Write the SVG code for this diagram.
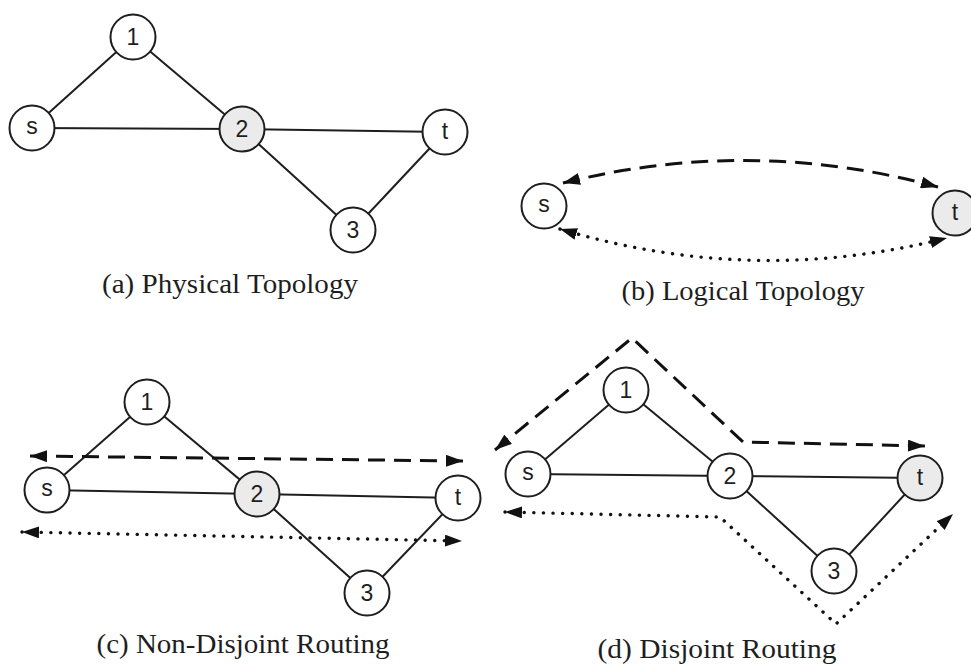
<svg xmlns="http://www.w3.org/2000/svg" width="971" height="669" viewBox="0 0 971 669">
<defs>
<marker id="arr" viewBox="0 0 17 12" refX="17" refY="6" markerWidth="17" markerHeight="12" markerUnits="userSpaceOnUse" orient="auto-start-reverse">
<path d="M0,0 L17,6 L0,12 Z" fill="#111"/>
</marker>
</defs>
<style>
.edge{stroke:#1e1e1e;stroke-width:2;fill:none}
.node{fill:#fff;stroke:#1e1e1e;stroke-width:2}
.gray{fill:#ebebeb}
.lbl{font-family:"Liberation Sans",Arial,sans-serif;font-size:23px;fill:#1e1e1e;text-anchor:middle}
.cap{font-family:"Liberation Serif","Times New Roman",serif;font-size:27px;fill:#1e1e1e;text-anchor:middle}
.dash{stroke:#111;stroke-width:3;fill:none;stroke-dasharray:17 9;marker-start:url(#arr);marker-end:url(#arr)}
.dot{stroke:#111;stroke-width:3.4;fill:none;stroke-dasharray:0.1 9.5;stroke-linecap:round;marker-start:url(#arr);marker-end:url(#arr)}
</style>
<rect width="971" height="669" fill="#fff"/>

<g id="connectors">
<!-- (a) -->
<line class="edge" x1="32" y1="128" x2="133" y2="37"/>
<line class="edge" x1="133" y1="37" x2="242" y2="129"/>
<line class="edge" x1="32" y1="128" x2="242" y2="129"/>
<line class="edge" x1="242" y1="129" x2="445" y2="132"/>
<line class="edge" x1="242" y1="129" x2="353" y2="230"/>
<line class="edge" x1="353" y1="230" x2="445" y2="132"/>
<!-- (b) -->
<path class="dash" d="M563,183 Q751,136 938,187"/>
<path class="dot" d="M560,229 Q753,287 947,238"/>
<!-- (c) -->
<line class="edge" x1="47" y1="490" x2="147" y2="402"/>
<line class="edge" x1="147" y1="402" x2="257" y2="494"/>
<line class="edge" x1="47" y1="490" x2="257" y2="494"/>
<line class="edge" x1="257" y1="494" x2="458" y2="498"/>
<line class="edge" x1="257" y1="494" x2="367" y2="593"/>
<line class="edge" x1="367" y1="593" x2="458" y2="498"/>
<path class="dash" d="M30,456 L463,461"/>
<path class="dot" d="M22,532 L462,541"/>
<!-- (d) -->
<line class="edge" x1="528" y1="474" x2="626" y2="390"/>
<line class="edge" x1="626" y1="390" x2="730" y2="476"/>
<line class="edge" x1="528" y1="474" x2="730" y2="476"/>
<line class="edge" x1="730" y1="476" x2="920" y2="478"/>
<line class="edge" x1="730" y1="476" x2="834" y2="571"/>
<line class="edge" x1="834" y1="571" x2="920" y2="478"/>
<path class="dash" d="M495,450 L632,338 L743,442 L925,446"/>
<path class="dot" d="M505,512 L720,517 L836,624 L953,514"/>
</g>

<g id="a-s"><circle class="node" cx="32" cy="128" r="22.5"/><text class="lbl" x="32" y="134">s</text></g>
<g id="a-1"><circle class="node" cx="133" cy="37" r="22.5"/><text class="lbl" x="133" y="45">1</text></g>
<g id="a-2"><circle class="node gray" cx="242" cy="129" r="22.5"/><text class="lbl" x="242" y="137">2</text></g>
<g id="a-t"><circle class="node" cx="445" cy="132" r="22.5"/><text class="lbl" x="445" y="139">t</text></g>
<g id="a-3"><circle class="node" cx="353" cy="230" r="22.5"/><text class="lbl" x="353" y="238">3</text></g>
<text id="cap-a" class="cap" x="230" y="293" textLength="256" lengthAdjust="spacingAndGlyphs">(a) Physical Topology</text>

<g id="b-s"><circle class="node" cx="544" cy="206" r="22.5"/><text class="lbl" x="544" y="212">s</text></g>
<g id="b-t"><circle class="node gray" cx="955" cy="213" r="22.5"/><text class="lbl" x="955" y="220">t</text></g>
<text id="cap-b" class="cap" x="743" y="300" textLength="243" lengthAdjust="spacingAndGlyphs">(b) Logical Topology</text>

<g id="c-s"><circle class="node" cx="47" cy="490" r="22.5"/><text class="lbl" x="47" y="496">s</text></g>
<g id="c-1"><circle class="node" cx="147" cy="402" r="22.5"/><text class="lbl" x="147" y="410">1</text></g>
<g id="c-2"><circle class="node gray" cx="257" cy="494" r="22.5"/><text class="lbl" x="257" y="502">2</text></g>
<g id="c-t"><circle class="node" cx="458" cy="498" r="22.5"/><text class="lbl" x="458" y="505">t</text></g>
<g id="c-3"><circle class="node" cx="367" cy="593" r="22.5"/><text class="lbl" x="367" y="601">3</text></g>
<text id="cap-c" class="cap" x="243" y="653" textLength="293" lengthAdjust="spacingAndGlyphs">(c) Non-Disjoint Routing</text>

<g id="d-s"><circle class="node" cx="528" cy="474" r="22.5"/><text class="lbl" x="528" y="480">s</text></g>
<g id="d-1"><circle class="node" cx="626" cy="390" r="22.5"/><text class="lbl" x="626" y="398">1</text></g>
<g id="d-2"><circle class="node" cx="730" cy="476" r="22.5"/><text class="lbl" x="730" y="484">2</text></g>
<g id="d-t"><circle class="node gray" cx="920" cy="478" r="22.5"/><text class="lbl" x="920" y="485">t</text></g>
<g id="d-3"><circle class="node" cx="834" cy="571" r="22.5"/><text class="lbl" x="834" y="579">3</text></g>
<text id="cap-d" class="cap" x="717" y="658" textLength="239" lengthAdjust="spacingAndGlyphs">(d) Disjoint Routing</text>
</svg>
